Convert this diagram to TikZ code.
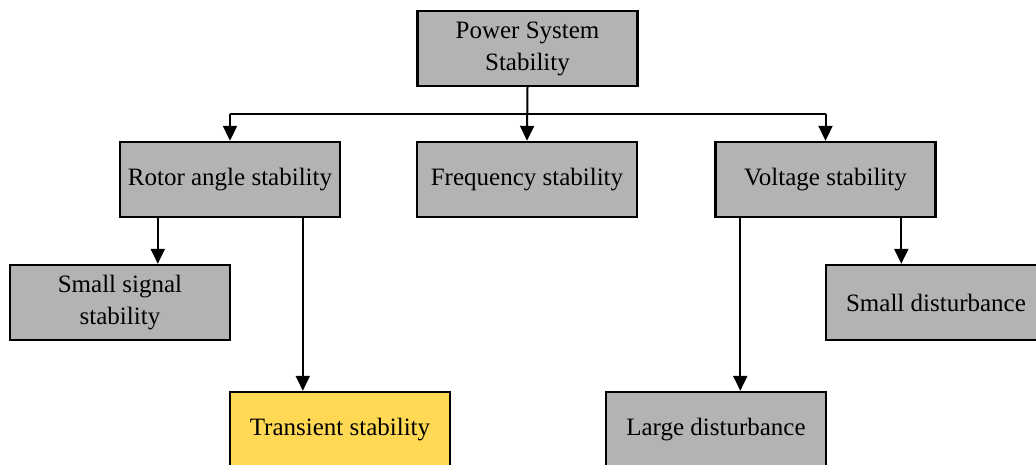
\documentclass[tikz,border=0pt]{standalone}
\usepackage{fontspec}
\setmainfont{Liberation Serif}
\usetikzlibrary{arrows.meta,calc}
\definecolor{boxgray}{HTML}{B3B3B3}
\definecolor{boxyellow}{HTML}{FFD954}
\begin{document}
\begin{tikzpicture}[x=1pt,y=-1pt,
  box/.style={draw=black,line width=2.4pt,fill=boxgray,minimum width=220pt,minimum height=75pt,
    inner sep=0pt,align=center,font=\fontsize{25}{32}\selectfont},
  arr/.style={line width=2pt,-{Triangle[width=14pt,length=15pt]}},
  ln/.style={line width=2pt}]
\useasboundingbox (0,0) rectangle (1036,464);
\clip (0,0) rectangle (1036,464);
\node[box] (top) at (527.5,48.5) {Power System\\Stability};
\node[box] (rotor) at (230,179.5) {Rotor angle stability};
\node[box] (freq) at (527,179.5) {Frequency stability};
\node[box] (volt) at (825.5,179.5) {Voltage stability};
\node[box] (ss) at (120,302.5) {Small signal\\stability};
\node[box,fill=boxyellow] (trans) at (340,429.5) {Transient stability};
\node[box] (sd) at (936,302.5) {Small disturbance};
\node[box] (ld) at (716,429.5) {Large disturbance};
\coordinate (bus) at (527,114);
\draw[ln] (bus -| rotor.north) -- (bus -| volt.north);
\draw[arr] (top.south) -- (freq.north);
\draw[arr] (bus -| rotor.north) -- (rotor.north);
\draw[arr] (bus -| volt.north) -- (volt.north);
\draw[arr] ([xshift=39pt]rotor.south west) -- ([xshift=39pt]rotor.south west |- ss.north);
\draw[arr] ([xshift=184pt]rotor.south west) -- ([xshift=184pt]rotor.south west |- trans.north);
\draw[arr] ([xshift=26pt]volt.south west) -- ([xshift=26pt]volt.south west |- ld.north);
\draw[arr] ([xshift=187pt]volt.south west) -- ([xshift=187pt]volt.south west |- sd.north);
\end{tikzpicture}
\end{document}
